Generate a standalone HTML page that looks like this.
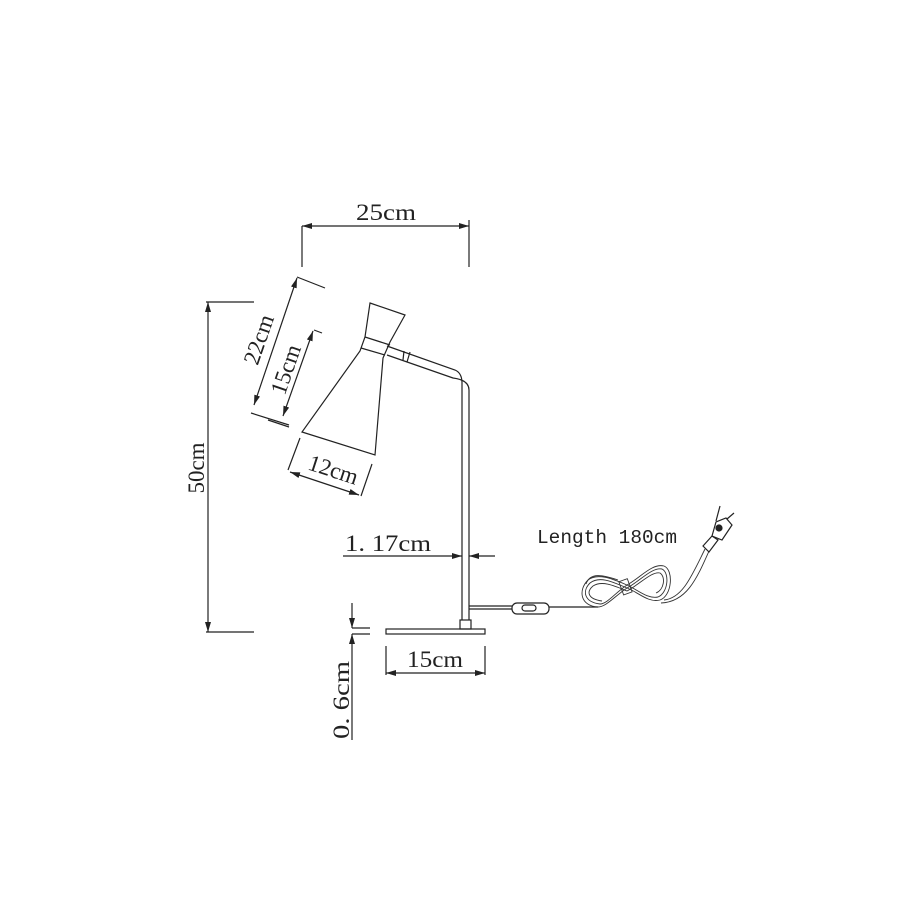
<!DOCTYPE html>
<html><head><style>
html,body{margin:0;padding:0;background:#fff;}
svg{display:block;}
text{font-family:"Liberation Serif",serif;fill:#222;}
.m{font-family:"Liberation Mono",monospace;}
</style></head><body>
<svg width="900" height="900" viewBox="0 0 900 900" xmlns="http://www.w3.org/2000/svg">
<defs>
<marker id="a" viewBox="0 0 10 6" refX="10" refY="3" markerWidth="10" markerHeight="6" orient="auto-start-reverse" markerUnits="userSpaceOnUse"><path d="M0,0 L10,3 L0,6 z" fill="#222"/></marker>
</defs>
<g stroke="#222" stroke-width="1.2" fill="none">
<line x1="302" y1="226" x2="469" y2="226" marker-start="url(#a)" marker-end="url(#a)"/>
<line x1="302" y1="226" x2="302" y2="267"/>
<line x1="469" y1="220" x2="469" y2="267"/>
<line x1="208" y1="302" x2="208" y2="632" marker-start="url(#a)" marker-end="url(#a)"/>
<line x1="206" y1="302" x2="254" y2="302"/>
<line x1="206" y1="632" x2="254" y2="632"/>
<line x1="297" y1="278" x2="254" y2="405" marker-start="url(#a)" marker-end="url(#a)"/>
<line x1="297" y1="277" x2="325" y2="288"/>
<line x1="251" y1="413" x2="289" y2="425"/>
<line x1="313" y1="331" x2="283" y2="416" marker-start="url(#a)" marker-end="url(#a)"/>
<line x1="314" y1="330" x2="322" y2="333"/>
<line x1="268" y1="420" x2="289" y2="427"/>
<line x1="300" y1="438" x2="288" y2="470"/>
<line x1="372" y1="464" x2="361" y2="496"/>
<line x1="290" y1="472" x2="359" y2="495" marker-start="url(#a)" marker-end="url(#a)"/>
<path d="M370,303 L405,315 L390,342 L383,358 L375,455 L302,432 L360,351 L365,337 Z"/>
<line x1="365" y1="337" x2="390" y2="345"/>
<line x1="361" y1="348" x2="385" y2="355"/>
<path d="M387,346 L455,370 Q462,373 462,383 L462,620"/>
<path d="M387,355 L453,378 Q469,380 469,390 L469,620"/>
<line x1="404" y1="351" x2="403" y2="360"/>
<line x1="410" y1="352" x2="407" y2="362"/>
<rect x="460" y="620" width="11" height="9"/>
<rect x="386" y="629" width="99" height="5"/>
<line x1="343" y1="556" x2="462" y2="556" marker-end="url(#a)"/>
<line x1="495" y1="556" x2="469" y2="556" marker-end="url(#a)"/>
<line x1="386" y1="646" x2="386" y2="675"/>
<line x1="485" y1="646" x2="485" y2="675"/>
<line x1="386" y1="673" x2="485" y2="673" marker-start="url(#a)" marker-end="url(#a)"/>
<line x1="352" y1="603" x2="352" y2="628" marker-end="url(#a)"/>
<line x1="352" y1="740" x2="352" y2="634" marker-end="url(#a)"/>
<line x1="352" y1="628" x2="370" y2="628"/>
<line x1="352" y1="634" x2="370" y2="634"/>
<line x1="469" y1="606" x2="512" y2="606"/>
<line x1="469" y1="609" x2="512" y2="609"/>
<rect x="512" y="603" width="37" height="11" rx="5"/>
<rect x="522" y="605" width="14" height="6" rx="3"/>
<line x1="549" y1="607" x2="598" y2="607"/>
</g>
<g stroke="#333" stroke-width="0.9" fill="none">
<path d="M598,607 C580,606 578,590 588,580 C598,572 615,580 627,585 C640,578 652,563 664,566 C674,570 672,596 660,600 C648,603 638,592 627,588 C615,596 606,607 598,607"/>
<path d="M600,604 C584,602 582,591 590,583 C600,575 615,583 627,588 C640,581 652,567 662,569 C670,573 668,593 658,597 C647,599 638,590 627,585 C615,593 607,604 600,604"/>
<path d="M602,601 C588,599 586,592 593,586 C602,580 615,586 627,591 C640,584 652,571 660,573 C666,577 664,590 656,593"/>
<path d="M586,584 C590,572 603,575 618,580"/>
<rect x="621" y="580" width="9" height="14" transform="rotate(-20 625 587)"/>
<path d="M664,600 C683,598 692,575 705,549"/>
<path d="M661,603 C687,602 697,578 709,551"/>
</g>
<g stroke="#222" stroke-width="1.2" fill="none">
<path d="M703,546 L712,536 L718,540 L709,552 Z"/>
<path d="M712,536 L716,522 L726,518 L732,525 L722,540 Z"/>
<circle cx="719" cy="528" r="3" fill="#222"/>
<line x1="716" y1="521" x2="720" y2="506"/>
<line x1="727" y1="519" x2="734" y2="513"/>
</g>
<text x="386" y="220" font-size="23" text-anchor="middle" textLength="60" lengthAdjust="spacingAndGlyphs">25cm</text>
<text transform="translate(204,468) rotate(-90)" font-size="23" text-anchor="middle">50cm</text>
<text transform="translate(266,342) rotate(-71)" font-size="23" text-anchor="middle">22cm</text>
<text transform="translate(293,372) rotate(-71)" font-size="23" text-anchor="middle">15cm</text>
<text transform="translate(331,477) rotate(18)" font-size="23" text-anchor="middle">12cm</text>
<text x="345" y="551" font-size="23" textLength="86" lengthAdjust="spacingAndGlyphs">1. 17cm</text>
<text x="435" y="667" font-size="23" text-anchor="middle" textLength="56" lengthAdjust="spacingAndGlyphs">15cm</text>
<text transform="translate(349,700) rotate(-90)" font-size="23" text-anchor="middle" textLength="78" lengthAdjust="spacingAndGlyphs">0. 6cm</text>
<text x="537" y="543" font-size="19" class="m" textLength="140" lengthAdjust="spacingAndGlyphs">Length 180cm</text>
</svg>
</body></html>
